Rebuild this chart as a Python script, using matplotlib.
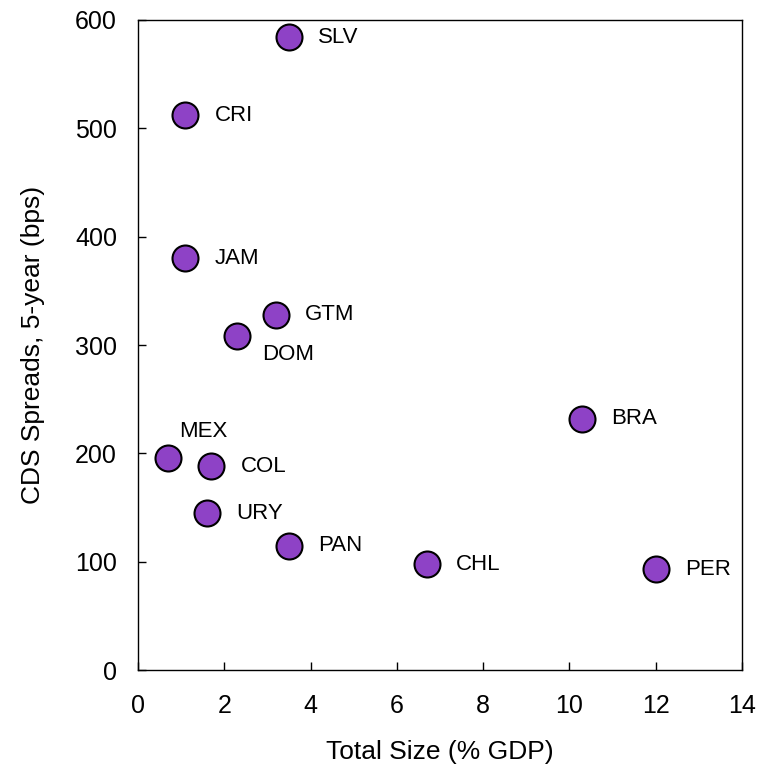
import matplotlib
matplotlib.use("Agg")
import matplotlib.pyplot as plt

plt.rcParams['font.family'] = ['Liberation Sans', 'DejaVu Sans']

countries = ["SLV", "CRI", "JAM", "GTM", "DOM", "MEX", "COL", "URY", "PAN", "CHL", "BRA", "PER"]
total_size = [3.5, 1.1, 1.1, 3.2, 2.3, 0.7, 1.7, 1.6, 3.5, 6.7, 10.3, 12.0]
cds_spread = [584, 512, 380, 328, 308, 196, 188, 145, 115, 98, 232, 93]

# label offsets in points (dx, dy) relative to each marker
offsets = {"MEX": (8, 19), "DOM": (18, -13)}
default_offset = (21, 0)

fig = plt.figure(figsize=(7.58, 7.66), dpi=100)
ax = fig.add_axes([0.182, 0.125, 0.797, 0.849])

ax.scatter(total_size, cds_spread, s=350, color="#8E42C6", edgecolor="black",
           linewidth=1.5, zorder=3)

for name, x, y in zip(countries, total_size, cds_spread):
    dx, dy = offsets.get(name, default_offset)
    ax.annotate(name, (x, y), xytext=(dx, dy), textcoords="offset points",
                ha="left", va="center", fontsize=16)

ax.set_xlim(0, 14)
ax.set_ylim(0, 600)
ax.set_xticks(range(0, 15, 2))
ax.set_yticks(range(0, 601, 100))
ax.tick_params(direction="in", length=6, labelsize=18, width=1)
ax.tick_params(axis="x", pad=17)
ax.tick_params(axis="y", pad=15)
for side in ["top", "right", "left", "bottom"]:
    ax.spines[side].set_linewidth(1)

ax.set_xlabel("Total Size (% GDP)", fontsize=19, labelpad=16)
ax.set_ylabel("CDS Spreads, 5-year (bps)", fontsize=19, labelpad=22)

fig.savefig("out.png", dpi=100)
